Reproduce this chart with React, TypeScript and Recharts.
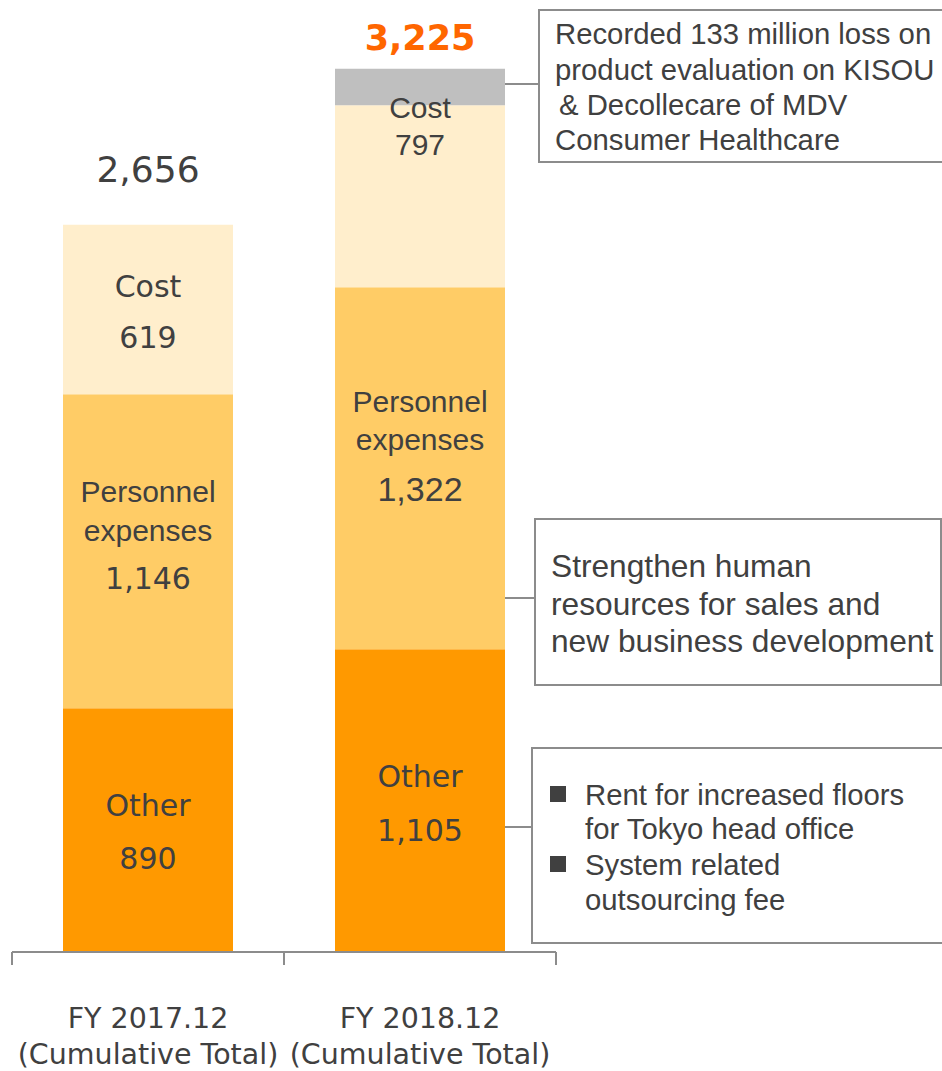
import React from 'react';
import { BarChart, Bar, XAxis, YAxis, LabelList } from 'recharts';

// Values (JPY million)
const periods = ['FY 2017.12', 'FY 2018.12'];
const periodNotes = ['(Cumulative Total)', '(Cumulative Total)'];
const otherValues = [890, 1105];
const personnelValues = [1146, 1322];
const costValues = [619, 797];
const lossValues = [0, 133]; // part of cost, shown in gray
const totals = [2656, 3225];

const data = periods.map((period, i) => ({
  period,
  note: periodNotes[i],
  other: otherValues[i],
  personnel: personnelValues[i],
  cost: costValues[i] - lossValues[i],
  loss: lossValues[i],
}));

const WIDTH = 942;
const HEIGHT = 1071;
const MARGIN = { top: 48, right: 386, left: 12, bottom: 0 };
const AXIS_HEIGHT = 119;
const BAND = (WIDTH - MARGIN.left - MARGIN.right) / periods.length;

const TEXT = '#404040';
const VERDANA = '"DejaVu Sans", Verdana, sans-serif';
const ARIAL = '"Liberation Sans", Arial, sans-serif';
const GRID = '#8c8c8c';

const fmt = (v: number) => v.toLocaleString('en-US');

type Line = { text: string; dy: number; font: string; size: number };

// text lines for every segment, offsets from the segment centre
const otherLines = (i: number): Line[] =>
  i === 0
    ? [
        { text: 'Other', dy: -25, font: VERDANA, size: 30 },
        { text: fmt(otherValues[i]), dy: 28, font: VERDANA, size: 30 },
      ]
    : [
        { text: 'Other', dy: -24, font: VERDANA, size: 30 },
        { text: fmt(otherValues[i]), dy: 30, font: VERDANA, size: 30 },
      ];

const personnelLines = (i: number): Line[] =>
  i === 0
    ? [
        { text: 'Personnel', dy: -60, font: ARIAL, size: 30 },
        { text: 'expenses', dy: -21, font: ARIAL, size: 30 },
        { text: fmt(personnelValues[i]), dy: 27, font: VERDANA, size: 30 },
      ]
    : [
        { text: 'Personnel', dy: -67, font: ARIAL, size: 30 },
        { text: 'expenses', dy: -29, font: ARIAL, size: 30 },
        { text: fmt(personnelValues[i]), dy: 21, font: ARIAL, size: 34 },
      ];

const costLines = (i: number): Line[] =>
  i === 0
    ? [
        { text: 'Cost', dy: -23, font: VERDANA, size: 30 },
        { text: fmt(costValues[i]), dy: 28, font: VERDANA, size: 30 },
      ]
    : [
        { text: 'Cost', dy: -89, font: ARIAL, size: 30 },
        { text: fmt(costValues[i]), dy: -52, font: ARIAL, size: 30 },
      ];

const renderLines = (lines: Line[], cx: number, cy: number) =>
  lines.map((l) => (
    <text
      key={l.text}
      x={cx}
      y={cy + l.dy}
      textAnchor="middle"
      dominantBaseline="central"
      fill={TEXT}
      fontFamily={l.font}
      fontSize={l.size}
    >
      {l.text}
    </text>
  ));

const segmentLabel = (getLines: (i: number) => Line[]) => (props: any) => {
  const { x, y, width, height, index } = props;
  const cx = Number(x) + Number(width) / 2;
  const cy = Number(y) + Number(height) / 2;
  return <g>{renderLines(getLines(index), cx, cy)}</g>;
};

// cost segment label plus the stack total above it (gray loss part sits on top of cost)
const CostLabel = (props: any) => {
  const { x, y, width, height, index } = props;
  const cx = Number(x) + Number(width) / 2;
  const cy = Number(y) + Number(height) / 2;
  const perUnit = Number(height) / data[index].cost;
  const top = Number(y) - lossValues[index] * perUnit;
  const last = index === totals.length - 1;
  return (
    <g>
      {renderLines(costLines(index), cx, cy)}
      <text
        x={cx}
        y={top - (last ? 31 : 55)}
        textAnchor="middle"
        dominantBaseline="central"
        fill={last ? '#FF6600' : TEXT}
        fontFamily={VERDANA}
        fontWeight={last ? 'bold' : 'normal'}
        fontSize={last ? 35 : 36}
      >
        {fmt(totals[index])}
      </text>
    </g>
  );
};

const PeriodTick = (props: any) => {
  const { x, y, index } = props;
  const left = x - BAND / 2;
  const right = x + BAND / 2;
  return (
    <g>
      <line x1={left} y1={y} x2={left} y2={y + 13} stroke={GRID} strokeWidth={2} />
      {index === periods.length - 1 && (
        <line x1={right} y1={y} x2={right} y2={y + 13} stroke={GRID} strokeWidth={2} />
      )}
      <text x={x} y={y + 66} textAnchor="middle" dominantBaseline="central" fill={TEXT} fontFamily={VERDANA} fontSize={28.5}>
        {periods[index]}
      </text>
      <text x={x} y={y + 102} textAnchor="middle" dominantBaseline="central" fill={TEXT} fontFamily={VERDANA} fontSize={28.5}>
        {periodNotes[index]}
      </text>
    </g>
  );
};

const Callouts = () => (
  <g fontFamily={ARIAL} fill={TEXT}>
    {/* loss on product evaluation */}
    <line x1={505} y1={84} x2={539} y2={84} stroke={GRID} strokeWidth={2} />
    <rect x={539} y={10} width={410} height={152} fill="#fff" stroke={GRID} strokeWidth={2} />
    <text fontSize={29.3}>
      <tspan x={555} y={44}>Recorded 133 million loss on</tspan>
      <tspan x={555} y={80}>product evaluation on KISOU</tspan>
      <tspan x={559} y={115}>&amp; Decollecare of MDV</tspan>
      <tspan x={555} y={150}>Consumer Healthcare</tspan>
    </text>

    {/* personnel */}
    <line x1={505} y1={598} x2={535} y2={598} stroke={GRID} strokeWidth={2} />
    <rect x={535} y={519} width={406} height={166} fill="#fff" stroke={GRID} strokeWidth={2} />
    <text fontSize={31.7}>
      <tspan x={551} y={577}>Strengthen human</tspan>
      <tspan x={551} y={615}>resources for sales and</tspan>
      <tspan x={551} y={652}>new business development</tspan>
    </text>

    {/* other */}
    <line x1={505} y1={827} x2={532} y2={827} stroke={GRID} strokeWidth={2} />
    <rect x={532} y={748} width={417} height={195} fill="#fff" stroke={GRID} strokeWidth={2} />
    <rect x={550} y={786} width={16} height={16} fill={TEXT} />
    <rect x={550} y={856} width={16} height={16} fill={TEXT} />
    <text fontSize={29.3}>
      <tspan x={585} y={805}>Rent for increased floors</tspan>
      <tspan x={585} y={839}>for Tokyo head office</tspan>
      <tspan x={585} y={875}>System related</tspan>
      <tspan x={585} y={910}>outsourcing fee</tspan>
    </text>
  </g>
);

export default function App() {
  return (
    <div style={{ position: 'absolute', left: 0, top: 0, width: WIDTH, height: HEIGHT, background: '#fff' }}>
      <BarChart width={WIDTH} height={HEIGHT} data={data} margin={MARGIN} barSize={170}>
        <XAxis
          dataKey="period"
          height={AXIS_HEIGHT}
          axisLine={{ stroke: GRID, strokeWidth: 2 }}
          tickLine={false}
          tickSize={0}
          tickMargin={0}
          interval={0}
          tick={<PeriodTick />}
        />
        <YAxis hide domain={[0, 3300]} />
        <Bar dataKey="other" stackId="a" fill="#FF9900" isAnimationActive={false}>
          <LabelList dataKey="other" content={segmentLabel(otherLines)} />
        </Bar>
        <Bar dataKey="personnel" stackId="a" fill="#FFCC66" isAnimationActive={false}>
          <LabelList dataKey="personnel" content={segmentLabel(personnelLines)} />
        </Bar>
        <Bar dataKey="cost" stackId="a" fill="#FFEECC" isAnimationActive={false}>
          <LabelList dataKey="cost" content={<CostLabel />} />
        </Bar>
        <Bar dataKey="loss" stackId="a" fill="#BFBFBF" isAnimationActive={false} />
        <Callouts />
      </BarChart>
    </div>
  );
}
